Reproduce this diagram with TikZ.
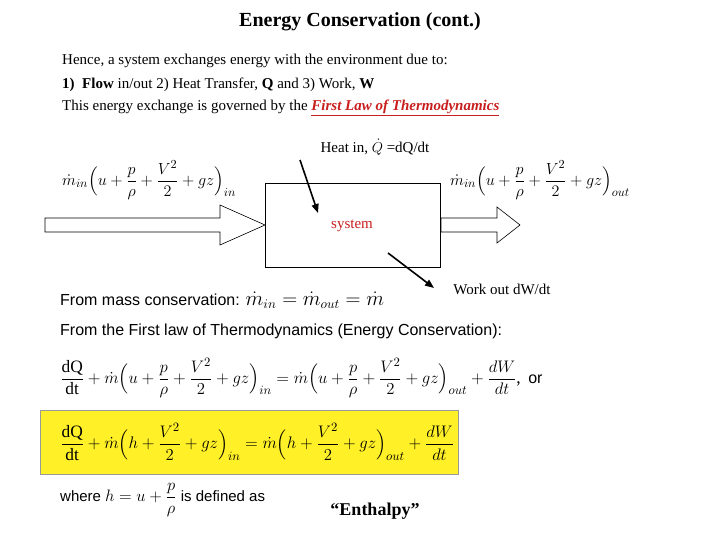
\documentclass[tikz,border=0pt]{standalone}
\usepackage{fontspec}
\setmainfont{Liberation Serif}
\setsansfont{Liberation Sans}
\usepackage{amsmath}
\usetikzlibrary{arrows.meta}
\definecolor{redt}{RGB}{200,30,30}
\definecolor{yel}{RGB}{255,240,40}
\begin{document}
\begin{tikzpicture}[x=1pt,y=-1pt,
  txt/.style={anchor=west,inner sep=0,font=\fontsize{15}{18}\selectfont},
  sf/.style={anchor=west,inner sep=0,font=\sffamily\fontsize{16}{19}\selectfont},
  eq/.style={inner sep=0,font=\fontsize{15}{18}\selectfont},
  flow/.style={draw,line width=0.6pt,fill=white},
  pt/.style={-{Triangle[length=9pt,width=7pt]},line width=1.6pt}]
\useasboundingbox (0,0) rectangle (720,540);
\node[inner sep=0,font=\bfseries\fontsize{20}{24}\selectfont] (title) at (360,22) {Energy Conservation (cont.)};
\node[txt] (l1) at (62,61) {Hence, a system exchanges energy with the environment due to:};
\node[txt] (l2) at (62,85) {\textbf{1)}\enspace\textbf{Flow} in/out 2) Heat Transfer, \textbf{Q} and 3) Work, \textbf{W}};
\node[txt] (l3) at (62,108) {This energy exchange is governed by the \textcolor{redt}{\textbf{\textit{\underline{First Law of Thermodynamics}}}}};
\node[draw,line width=0.6pt,minimum width=175pt,minimum height=84pt,inner sep=0] (sys) at (352.5,225) {};
\node[inner sep=0,text=redt,font=\fontsize{15}{18}\selectfont] (st) at (352,226) {system};
\draw[flow] (45,218) -- (220,218) -- (220,205) -- (265,225) -- (220,245) -- (220,232) -- (45,232) -- cycle;
\draw[flow] (441,218) -- (497,218) -- (497,207) -- (520,225) -- (497,243) -- (497,232) -- (441,232) -- cycle;
\node[inner sep=0,font=\fontsize{15}{18}\selectfont] (heat) at (375,147) {Heat in, $\dot Q$ =dQ/dt};
\coordinate (h0) at (300,160); \coordinate (h1) at (318,213);
\draw[pt] (h0) -- (h1);
\coordinate (w0) at (388,253); \coordinate (w1) at (434,288);
\draw[pt] (w0) -- (w1);
\node[inner sep=0,font=\fontsize{15}{18}\selectfont] (work) at (502,289) {Work out dW/dt};
\node[eq,anchor=west] (e1) at (62,180) {\scalebox{1.12}{$\dot m_{in}\Big(u+\dfrac{p}{\rho}+\dfrac{V^2}{2}+gz\Big)_{in}$}};
\node[eq,anchor=west] (e2) at (450,180) {\scalebox{1.12}{$\dot m_{in}\Big(u+\dfrac{p}{\rho}+\dfrac{V^2}{2}+gz\Big)_{out}$}};
\node[sf] (m1) at (60,300) {From mass conservation: \scalebox{1.2}{$\dot m_{in}=\dot m_{out}=\dot m$}};
\node[sf] (m2) at (60,331) {From the First law of Thermodynamics (Energy Conservation):};
\node[eq,anchor=west] (e3) at (60,378) {\scalebox{1.16}{$\dfrac{\mathrm{dQ}}{\mathrm{dt}}+\dot m\Big(u+\dfrac{p}{\rho}+\dfrac{V^2}{2}+gz\Big)_{in}=\dot m\Big(u+\dfrac{p}{\rho}+\dfrac{V^2}{2}+gz\Big)_{out}+\dfrac{dW}{dt}$,}\enspace{\sffamily\fontsize{16}{19}\selectfont or}};
\node[fill=yel,draw=black!40,minimum width=418pt,minimum height=64pt,inner sep=0] (yb) at (249,442) {};
\node[eq,anchor=west] (e4) at (60,442) {\scalebox{1.16}{$\dfrac{\mathrm{dQ}}{\mathrm{dt}}+\dot m\Big(h+\dfrac{V^2}{2}+gz\Big)_{in}=\dot m\Big(h+\dfrac{V^2}{2}+gz\Big)_{out}+\dfrac{dW}{dt}$}};
\node[sf,font=\sffamily\fontsize{15}{18}\selectfont] (wh) at (60,500) {where \scalebox{1.15}{$h=u+\dfrac{p}{\rho}$} is defined as};
\node[inner sep=0,font=\bfseries\fontsize{18}{22}\selectfont] (en) at (375,511) {“Enthalpy”};
\end{tikzpicture}
\end{document}
